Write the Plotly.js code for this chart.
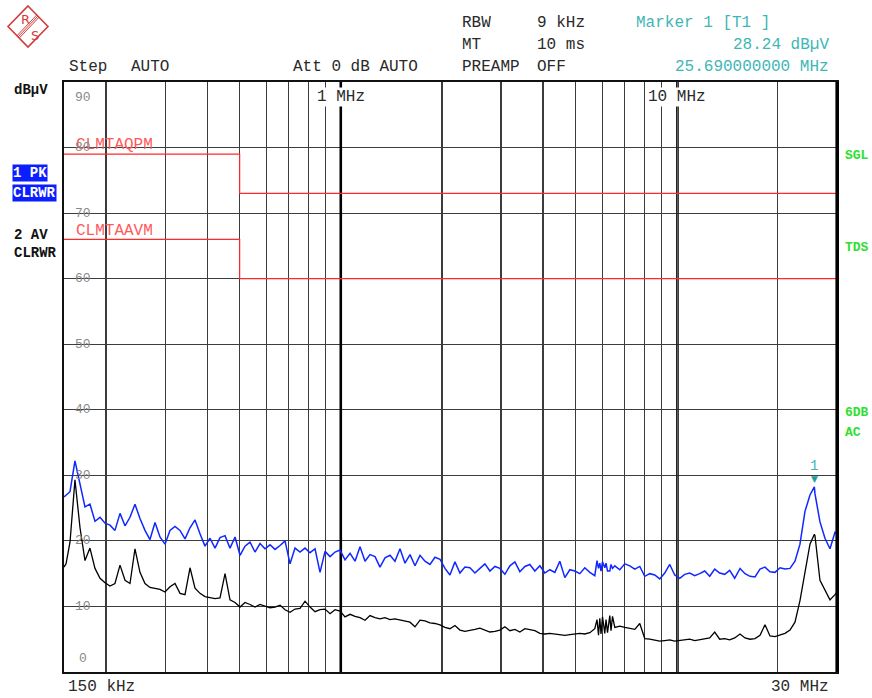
<!DOCTYPE html>
<html><head><meta charset="utf-8">
<script src="https://cdn.plot.ly/plotly-3.0.1.min.js"></script>
<style>html,body{margin:0;padding:0;background:#fff}#chart{width:872px;height:698px}</style>
</head><body><div id="chart"></div>
<script>
// Sweep frequencies (kHz)
const freqKHz = [
150,152.1,156.3,161.7,167.4,173.2,179.2,185.5,192.0,198.7,
205.6,212.7,220.2,227.9,235.8,244.0,252.5,261.3,270.4,279.9,
289.6,299.7,310.2,321.0,332.2,343.8,355.8,368.2,381.0,394.3,
408.1,422.3,437.0,452.3,468.0,484.4,501.2,518.7,536.8,555.5,
574.9,594.9,615.7,637.2,659.4,682.4,706.2,730.8,756.3,782.7,
810.0,838.2,867.4,897.7,929.0,961.4,994.9,1029.6,1065.5,1102.6,
1141.0,1180.7,1221.8,1264.4,1308.4,1354.0,1401.2,1449.9,1500.7,1553.0,
1607.1,1663.1,1721.0,1780.9,1843.0,1907.1,1973.6,2042.3,2113.4,2187.0,
2263.2,2342.0,2423.6,2508.0,2595.3,2685.7,2779.2,2876.0,2976.2,3079.9,
3187.1,3298.1,3413.0,3531.8,3654.9,3782.1,3914.0,4050.2,4191.2,4337.3,
4488.3,4644.7,4806.4,4973.8,5147.1,5326.3,5511.9,5703.8,5790.6,5850.5,5902.5,5951.7,6013,6108.2,6159,6223,
6320.9,6374,6440,6541.2,6769.0,7004.7,7248.8,7501.2,7762.6,8032.9,8312.7,8602.4,
8901.9,9212.1,9532.9,9864.9,10209,10564,10932,11313,11707,12115,
12537,12974,13425,13893,14377,14878,15432,15970,16526,17102,
17698,18315,18953,19613,20297,21004,21736,22493,23276,24088,
24927,25690,25796,26695,27625,28589,29585,30000
];
// Trace 1: PK (dBuV)
const pkLevel = [
26.7,27.0,27.5,32.2,28.8,25.2,25.6,23.0,23.6,22.7,
22.4,21.6,24.2,22.3,23.6,25.6,23.4,21.6,20.2,22.8,
20.6,19.5,21.6,22.2,21.6,20.3,22.0,23.2,21.1,19.2,
20.4,18.9,20.5,20.8,18.9,20.6,17.8,19.2,19.8,18.3,
19.6,18.8,19.4,18.7,19.3,20.0,16.5,18.9,18.3,18.9,
18.2,18.8,15.2,18.4,17.6,18.3,18.6,17.1,18.1,16.9,
19.1,16.9,17.9,17.6,16.0,17.4,17.8,16.9,18.8,16.6,
17.9,16.2,17.8,16.9,16.4,17.5,17.2,15.8,14.8,16.8,
15.1,16.0,15.9,15.1,15.8,16.5,15.4,16.1,15.8,14.9,
16.2,16.8,15.3,16.1,16.4,15.4,16.2,15.1,15.6,15.2,
16.9,14.4,15.6,15.4,15.0,15.9,15.2,14.7,17.0,15.8,16.6,15.4,16.8,15.9,16.6,15.4,
15.4,16.4,15.8,16.2,15.6,16.5,16.2,15.7,16.1,14.6,15.0,14.8,
14.2,15.1,16.4,14.8,14.3,14.9,15.1,14.7,15.0,15.4,
14.6,15.7,15.1,14.9,15.5,14.3,15.8,15.0,14.6,14.5,
15.7,16.0,15.3,15.2,15.9,15.7,15.8,16.9,19.5,24.5,
27.0,28.24,27.2,22.9,20.4,18.8,21.3,21.0
];
// Trace 2: AV (dBuV)
const avLevel = [
16.0,16.5,19.8,29.3,22.0,17.0,18.9,15.8,14.3,13.6,
13.1,13.5,16.3,14.0,13.5,18.8,15.2,13.5,12.9,12.7,
12.6,12.2,13.0,13.5,12.0,11.8,15.9,12.8,12.0,11.5,
11.4,11.2,11.3,15.0,11.0,10.6,9.9,10.6,10.3,9.9,
10.3,10.1,9.8,9.9,10.2,9.5,9.1,9.6,9.7,10.8,
9.9,9.2,9.5,9.6,8.9,9.5,9.3,8.4,8.8,8.5,
8.3,7.9,8.6,8.3,8.1,8.3,8.0,8.1,7.9,7.8,
7.6,6.9,7.9,7.8,7.5,7.4,7.2,6.8,6.6,7.1,
6.4,6.2,6.3,6.5,6.7,6.4,6.1,6.2,6.4,6.9,
6.3,6.5,6.1,6.6,6.5,6.3,5.9,5.8,5.9,5.8,
5.7,5.6,5.7,5.8,5.9,5.8,6.0,6.6,8.0,5.6,8.2,5.8,8.4,5.9,8.0,6.0,
8.6,6.3,8.5,6.8,7.0,6.8,6.6,6.5,7.4,5.1,5.0,4.9,
4.7,4.8,4.9,4.7,4.8,4.9,5.0,4.8,4.9,5.1,
5.2,6.1,5.0,5.1,4.9,5.2,5.8,5.2,5.0,5.1,
5.6,7.2,5.5,5.4,5.7,5.9,6.4,7.6,10.9,15.0,
19.5,21.0,20.8,14.0,12.4,11.0,11.8,12.2
];
const limitFreq = [150, 500, 500, 30000];
const qpLimit = [79, 79, 73, 73];
const avLimit = [66, 66, 60, 60];
const markerFreq = [25690];
const markerLevel = [28.24];
const yTicks = [0, 10, 20, 30, 40, 50, 60, 70, 80, 90];
const gridFreq = [200,300,400,500,600,700,800,900,1000,2000,3000,4000,5000,6000,7000,8000,9000,10000,20000];
const boldFreq = [1000];
const doubleFreq = [10000, 10100];

const L = 64, R = 837, T = 82, B = 672;
const PX = x => (x - L) / (R - L);
const PY = y => (B - y) / (B - T);
const MONO = 'Liberation Mono, DejaVu Sans Mono, monospace';
const TXT = '#2a2a2a';
const TEAL = '#3fb6b6';
const GREEN = '#2ee02e';

const data = [];
boldFreq.forEach(f => data.push({x:[f,f], y:[0,90], mode:'lines', line:{color:'#000', width:2.6}, hoverinfo:'skip'}));
doubleFreq.forEach(f => data.push({x:[f,f], y:[0,90], mode:'lines', line:{color:'#222', width:1.4}, hoverinfo:'skip'}));
data.push({x:limitFreq, y:qpLimit, mode:'lines', line:{color:'#ff2a2a', width:1.2}});
data.push({x:limitFreq, y:avLimit, mode:'lines', line:{color:'#ff2a2a', width:1.2}});
data.push({x:freqKHz, y:avLevel, mode:'lines', line:{color:'#000000', width:1.3}});
data.push({x:freqKHz, y:pkLevel, mode:'lines', line:{color:'#1028ff', width:1.5}});

const ann = [];
function txt(t, px, py, opt) {
  opt = opt || {};
  ann.push(Object.assign({text:t, xref:'paper', yref:'paper', x:PX(px), y:PY(py), xanchor:'left', yanchor:'middle',
    showarrow:false, font:{family:MONO, size:16, color:TXT}}, opt));
}
// header
txt('RBW', 460, 23); txt('9 kHz', 535, 23);
txt('MT', 460, 45); txt('10 ms', 535, 45);
txt('PREAMP', 460, 67); txt('OFF', 535, 67);
txt('Step', 67, 67); txt('AUTO', 129, 67);
txt('Att 0 dB AUTO', 291, 67);
txt('Marker 1 [T1 ]', 634, 23, {font:{family:MONO, size:16, color:TEAL}});
txt('28.24 dBµV', 831, 45, {xanchor:'right', font:{family:MONO, size:16, color:TEAL}});
txt('25.690000000 MHz', 831, 67, {xanchor:'right', font:{family:MONO, size:16, color:TEAL}});
// left labels
txt('<b>dBµV</b>', 12, 90, {font:{family:MONO, size:14, color:'#111'}});
txt('<b>1 PK</b>', 12, 173, {bgcolor:'#0a1eff', borderpad:0, font:{family:MONO, size:14, color:'#fff'}});
txt('<b>CLRWR</b>', 12, 193, {bgcolor:'#0a1eff', borderpad:0, font:{family:MONO, size:14, color:'#fff'}});
txt('<b>2 AV</b>', 12, 235, {font:{family:MONO, size:14, color:'#111'}});
txt('<b>CLRWR</b>', 12, 253, {font:{family:MONO, size:14, color:'#111'}});
// right labels
[['SGL',155],['TDS',247],['6DB',413],['AC',432]].forEach(a => txt('<b>'+a[0]+'</b>', 843, a[1], {font:{family:MONO, size:13, color:GREEN}}));
// limit names
txt('CLMTAQPM', 74, 145, {font:{family:MONO, size:16, color:'#ff5a5a'}});
txt('CLMTAAVM', 74, 231, {font:{family:MONO, size:16, color:'#ff5a5a'}});
// bottom labels
txt('150 kHz', 66, 687);
txt('30 MHz', 831, 687, {xanchor:'right'});
// frequency labels on grid
[[1000,'1 MHz'],[10000,'10 MHz']].forEach(a => ann.push({text:a[1], xref:'x', yref:'paper', x:Math.log10(a[0]), y:PY(97),
  xanchor:'center', yanchor:'middle', showarrow:false, bgcolor:'#fff', borderpad:0, font:{family:MONO, size:16, color:TXT}}));
// y tick labels
const shapes = [];
yTicks.forEach(v => {
  let ys = 0;
  if (v === 90) ys = -15;
  if (v === 0) ys = 14;
  ann.push({text:String(v), xref:'paper', yref:'y', x:PX(83), y:v, yshift:ys, xanchor:'center', yanchor:'middle',
    showarrow:false, font:{family:MONO, size:13, color:'#8a8a8a'}});
  if (v > 0 && v < 90) shapes.push({type:'rect', xref:'paper', yref:'y', x0:PX(73), x1:PX(93), y0:v-1.0, y1:v+1.0,
    fillcolor:'#fff', line:{width:0}, layer:'between'});
});
// marker
markerFreq.forEach((f, i) => {
  ann.push({text:'▼', xref:'x', yref:'y', x:Math.log10(f), y:markerLevel[i], yshift:8, xanchor:'center', yanchor:'middle',
    showarrow:false, font:{family:'DejaVu Sans', size:9, color:'#1f9e9e'}});
  ann.push({text:'1', xref:'x', yref:'y', x:Math.log10(f), y:markerLevel[i], yshift:21, xanchor:'center', yanchor:'middle',
    showarrow:false, font:{family:MONO, size:14, color:TEAL}});
});
// R&S logo
const RED = '#d43c3c';
function pt(x, y) { return PX(x) + ',' + PY(y); }
shapes.push({type:'path', xref:'paper', yref:'paper', path:'M'+pt(28,6)+' L'+pt(48,26.5)+' L'+pt(28,47)+' L'+pt(8,26.5)+' Z',
  line:{color:RED, width:1.6}, fillcolor:'rgba(0,0,0,0)'});
[[-1.2,-1.1],[0,0],[1.2,1.1]].forEach(o => shapes.push({type:'line', xref:'paper', yref:'paper',
  x0:PX(38+o[0]), y0:PY(16+o[1]), x1:PX(18+o[0]), y1:PY(37+o[1]), line:{color:RED, width:1}}));
txt('R', 19, 19, {font:{family:'DejaVu Sans', size:13, color:RED}});
txt('S', 29, 35, {font:{family:'DejaVu Sans', size:13, color:RED}});
// thick right border
shapes.push({type:'line', xref:'paper', yref:'paper', x0:1, x1:1, y0:0, y1:1, line:{color:'#000', width:3.2}});

const layout = {
  width:872, height:698,
  margin:{l:L, r:872-R, t:T, b:698-B, pad:0},
  paper_bgcolor:'#fff', plot_bgcolor:'#fff',
  showlegend:false, hovermode:false,
  xaxis:{type:'log', range:[Math.log10(150), Math.log10(30000)], tickmode:'array', tickvals:gridFreq,
    showticklabels:false, ticks:'', showgrid:true, gridcolor:'#3c3c3c', gridwidth:1.2,
    showline:true, mirror:true, linecolor:'#111', linewidth:2, zeroline:false, fixedrange:true},
  yaxis:{range:[0,90], tickmode:'array', tickvals:yTicks, showticklabels:false, ticks:'',
    showgrid:true, gridcolor:'#3c3c3c', gridwidth:1.2,
    showline:true, mirror:true, linecolor:'#111', linewidth:2, zeroline:false, fixedrange:true},
  annotations:ann,
  shapes:shapes
};
Plotly.newPlot('chart', data, layout, {staticPlot:true, displayModeBar:false});
</script></body></html>
